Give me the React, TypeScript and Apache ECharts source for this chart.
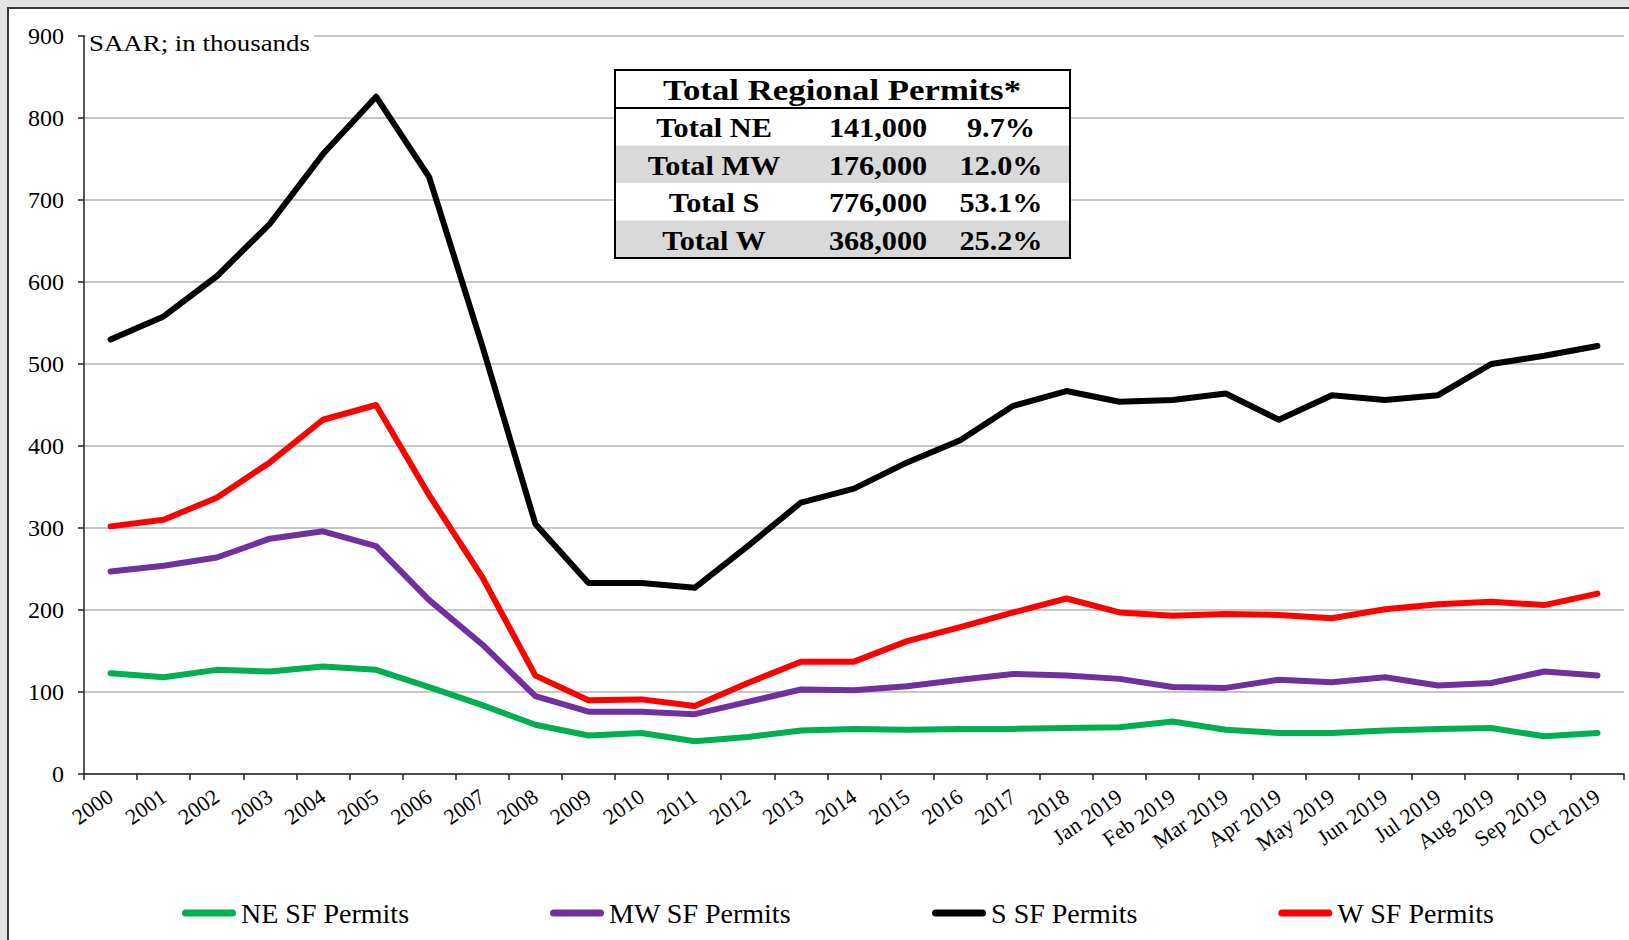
import React, { useEffect, useRef } from "react";
import * as echarts from "echarts";

const categories = [
  "2000", "2001", "2002", "2003", "2004", "2005", "2006", "2007", "2008", "2009",
  "2010", "2011", "2012", "2013", "2014", "2015", "2016", "2017", "2018",
  "Jan 2019", "Feb 2019", "Mar 2019", "Apr 2019", "May 2019", "Jun 2019",
  "Jul 2019", "Aug 2019", "Sep 2019", "Oct 2019",
];

const neData = [123, 118, 127, 125, 131, 127, 106, 84, 60, 47, 50, 40, 45, 53, 55, 54, 55, 55, 56, 57, 64, 54, 50, 50, 53, 55, 56, 46, 50];
const mwData = [247, 254, 264, 287, 296, 278, 212, 158, 95, 76, 76, 73, 88, 103, 102, 107, 115, 122, 120, 116, 106, 105, 115, 112, 118, 108, 111, 125, 120];
const sData = [530, 558, 607, 671, 756, 826, 728, 522, 305, 233, 233, 227, 278, 331, 348, 380, 407, 449, 467, 454, 456, 464, 432, 462, 456, 462, 500, 510, 522];
const wData = [302, 310, 337, 380, 432, 450, 340, 240, 120, 90, 91, 83, 111, 137, 137, 162, 179, 197, 214, 197, 193, 195, 194, 190, 201, 207, 210, 206, 220];

const seriesNames = ["NE SF Permits", "MW SF Permits", "S SF Permits", "W SF Permits"];
const seriesColors = ["#00b050", "#7030a0", "#000000", "#ff0000"];

const tableTitle = "Total Regional Permits*";
const tableLabels = ["Total NE", "Total MW", "Total S", "Total W"];
const tableTotals = ["141,000", "176,000", "776,000", "368,000"];
const tableShares = ["9.7%", "12.0%", "53.1%", "25.2%"];

const yTicks = { min: 0, max: 900, interval: 100 };
const unitNote = "SAAR; in thousands";

const SERIF = "'Liberation Serif', 'Times New Roman', serif";

export default function App() {
  const ref = useRef<HTMLDivElement>(null);

  useEffect(() => {
    if (!ref.current) return;
    const chart = echarts.init(ref.current, null, { renderer: "svg" });

    const tLeft = 615;
    const tRight = 1070;
    const tTop = 70;
    const titleH = 38;
    const rowH = 37.5;
    const tW = tRight - tLeft;
    const tH = titleH + rowH * tableLabels.length;
    const colX = [714, 878, 1001];

    const tableEls: any[] = [];
    tableEls.push({
      type: "rect",
      shape: { x: tLeft, y: tTop, width: tW, height: tH },
      style: { fill: "#ffffff", stroke: "none" },
      z: 100,
    });
    tableLabels.forEach((lab, i) => {
      const y0 = tTop + titleH + rowH * i;
      if (i % 2 === 1) {
        tableEls.push({
          type: "rect",
          shape: { x: tLeft, y: y0, width: tW, height: rowH },
          style: { fill: "#d9d9d9" },
          z: 101,
        });
      }
      const cells = [lab, tableTotals[i], tableShares[i]];
      cells.forEach((c, j) => {
        tableEls.push({
          type: "text",
          x: colX[j],
          y: y0 + rowH / 2 + 1,
          scaleX: 1.08,
          style: {
            text: c,
            font: `bold 28px ${SERIF}`,
            fill: "#000",
            align: "center",
            verticalAlign: "middle",
          },
          z: 103,
        });
      });
    });
    tableEls.push({
      type: "text",
      x: 842,
      y: tTop + titleH / 2 + 1,
      scaleX: 1.16,
      style: {
        text: tableTitle,
        font: `bold 30px ${SERIF}`,
        fill: "#000",
        align: "center",
        verticalAlign: "middle",
      },
      z: 103,
    });
    tableEls.push({
      type: "line",
      shape: { x1: tLeft, y1: tTop + titleH, x2: tRight, y2: tTop + titleH },
      style: { stroke: "#000", lineWidth: 2 },
      z: 104,
    });
    tableEls.push({
      type: "rect",
      shape: { x: tLeft, y: tTop, width: tW, height: tH },
      style: { fill: "none", stroke: "#000", lineWidth: 2 },
      z: 104,
    });

    const mk = (name: string, data: number[], color: string) => ({
      name,
      type: "line",
      data,
      symbol: "none",
      lineStyle: { color, width: 6, cap: "round", join: "round" },
      itemStyle: { color },
    });

    const capsule =
      "path://M3.5,0 L50.5,0 A3.5,3.5 0 0 1 50.5,7 L3.5,7 A3.5,3.5 0 0 1 3.5,0 Z";

    chart.setOption({
      animation: false,
      backgroundColor: "#e4e4e4",
      textStyle: { fontFamily: SERIF },
      grid: { left: 84, top: 36, right: 5, bottom: 166, containLabel: false },
      legend: {
        data: seriesNames.map((n) => ({ name: n, icon: capsule })),
        left: 177,
        top: 894,
        itemWidth: 54,
        itemHeight: 7,
        itemGap: 141,
        textStyle: { fontSize: 28, color: "#000", fontFamily: SERIF },
      },
      xAxis: {
        type: "category",
        data: categories,
        boundaryGap: true,
        axisLine: { lineStyle: { color: "#222", width: 1.5 } },
        axisTick: { show: true, length: 6, lineStyle: { color: "#222", width: 1.5 } },
        axisLabel: {
          interval: 0,
          rotate: 35,
          fontSize: 22,
          color: "#000",
          margin: 20,
          fontFamily: SERIF,
        },
      },
      yAxis: {
        type: "value",
        min: yTicks.min,
        max: yTicks.max,
        interval: yTicks.interval,
        axisLine: { show: true, lineStyle: { color: "#222", width: 1.5 } },
        axisTick: { show: true, length: 6, lineStyle: { color: "#222", width: 1.5 } },
        axisLabel: { fontSize: 24, color: "#000", margin: 20, fontFamily: SERIF },
        splitLine: { lineStyle: { color: "#b3b3b3", width: 1.5 } },
      },
      graphic: [
        {
          type: "rect",
          shape: { x: 8, y: 8, width: 1700, height: 1000 },
          style: { fill: "#ffffff", stroke: "#3a3a3a", lineWidth: 2 },
          z: -100,
          silent: true,
        },
        {
          type: "rect",
          shape: { x: 86, y: 28, width: 228, height: 26 },
          style: { fill: "#ffffff" },
          z: 100,
        },
        {
          type: "text",
          x: 89,
          y: 43,
          scaleX: 1.12,
          style: {
            text: unitNote,
            font: `24px ${SERIF}`,
            fill: "#000",
            align: "left",
            verticalAlign: "middle",
          },
          z: 101,
        },
        ...tableEls,
      ],
      series: [
        mk(seriesNames[0], neData, seriesColors[0]),
        mk(seriesNames[1], mwData, seriesColors[1]),
        mk(seriesNames[2], sData, seriesColors[2]),
        mk(seriesNames[3], wData, seriesColors[3]),
      ],
    });

    return () => chart.dispose();
  }, []);

  return (
    <div
      ref={ref}
      style={{ position: "fixed", left: 0, top: 0, width: 1629, height: 940 }}
    />
  );
}
